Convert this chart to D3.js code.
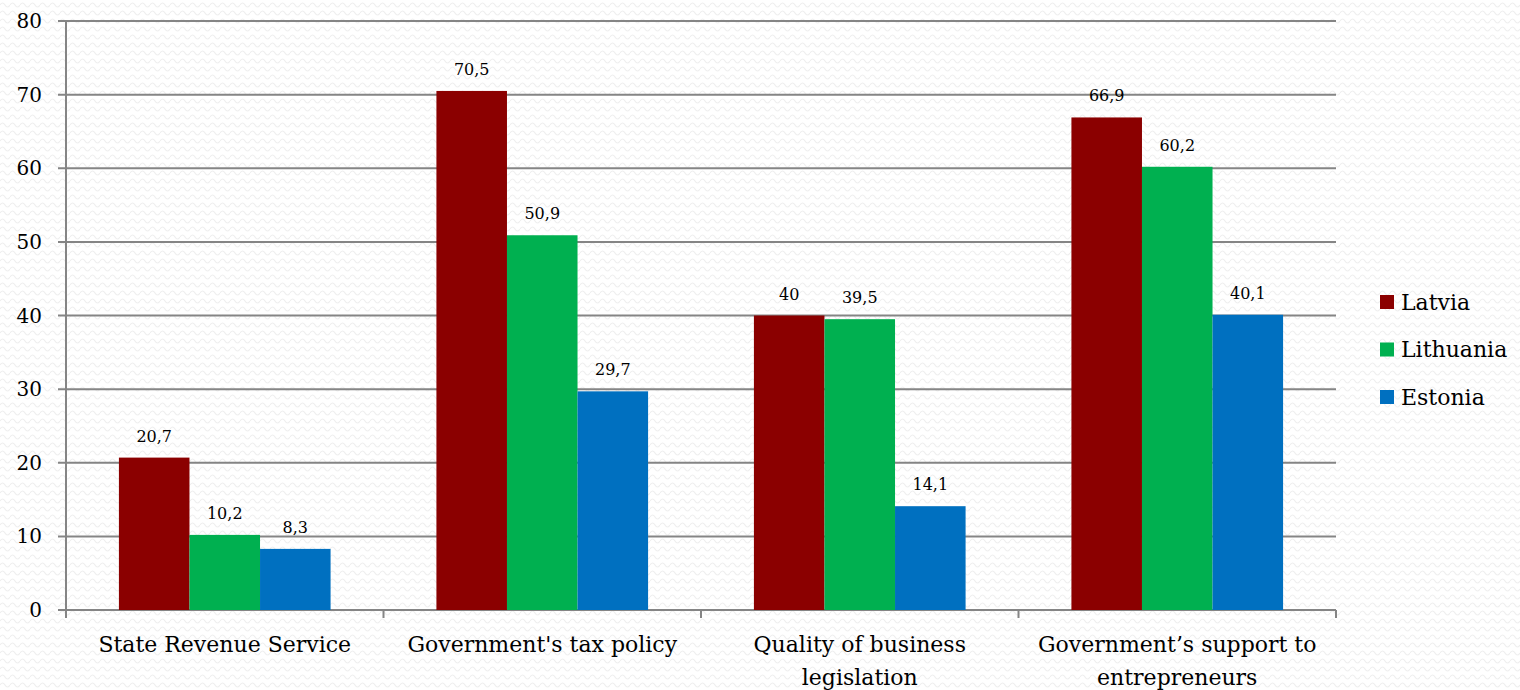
<!DOCTYPE html>
<html>
<head>
<meta charset="utf-8">
<script src="https://d3js.org/d3.v7.min.js"></script>
<style>
  html, body { margin: 0; padding: 0; background: #ffffff; }
  svg { display: block; }
</style>
</head>
<body>
<svg id="chart" width="1520" height="690"></svg>
<script>
// Survey shares by country, per assessed area
const categories = [
  ["State Revenue Service"],
  ["Government's tax policy"],
  ["Quality of business", "legislation"],
  ["Government\u2019s support to", "entrepreneurs"]
];
const seriesNames = ["Latvia", "Lithuania", "Estonia"];
const seriesColors = ["#8b0000", "#00b050", "#0070c0"];
const latvia = [20.7, 70.5, 40, 66.9];
const lithuania = [10.2, 50.9, 39.5, 60.2];
const estonia = [8.3, 29.7, 14.1, 40.1];
const yTicks = [0, 10, 20, 30, 40, 50, 60, 70, 80];

const seriesValues = [latvia, lithuania, estonia];
const fontFamily = "'DejaVu Serif', 'Liberation Serif', serif";

const svg = d3.select("#chart");

// faint wavy backdrop
const defs = svg.append("defs");
const pat = defs.append("pattern")
  .attr("id", "waves").attr("patternUnits", "userSpaceOnUse")
  .attr("width", 10).attr("height", 8);
pat.append("path")
  .attr("d", "M0,5 Q2.5,1 5,5 T10,5")
  .attr("fill", "none").attr("stroke", "#efefef").attr("stroke-width", 1.2);
svg.append("rect").attr("width", 1520).attr("height", 690).attr("fill", "#ffffff");
svg.append("rect").attr("width", 1520).attr("height", 690).attr("fill", "url(#waves)");

const plot = { left: 66, right: 1336, top: 21, bottom: 610 };

const x0 = d3.scaleBand()
  .domain(d3.range(categories.length))
  .range([plot.left, plot.right])
  .paddingInner(0).paddingOuter(0);

const x1 = d3.scaleBand()
  .domain(d3.range(seriesNames.length))
  .range([0, x0.bandwidth()])
  .paddingInner(0)
  .paddingOuter(0.75);

const y = d3.scaleLinear().domain([0, 80]).range([plot.bottom, plot.top]);

const lineColor = "#858585";

// horizontal gridlines with left ticks
svg.append("g").selectAll("line")
  .data(yTicks)
  .join("line")
  .attr("x1", plot.left - 8).attr("x2", plot.right)
  .attr("y1", d => y(d)).attr("y2", d => y(d))
  .attr("stroke", lineColor).attr("stroke-width", 2);

// y tick labels
svg.append("g").selectAll("text")
  .data(yTicks)
  .join("text")
  .attr("x", 42).attr("y", d => y(d))
  .attr("dy", "0.35em")
  .attr("text-anchor", "end")
  .attr("font-family", fontFamily).attr("font-size", 20)
  .attr("fill", "#000")
  .text(d => d);

// bars
const groups = svg.append("g").selectAll("g")
  .data(categories)
  .join("g")
  .attr("transform", (d, i) => `translate(${x0(i)},0)`);

groups.each(function(cat, ci) {
  const g = d3.select(this);
  seriesValues.forEach((vals, si) => {
    const v = vals[ci];
    g.append("rect")
      .attr("x", x1(si)).attr("width", x1.bandwidth())
      .attr("y", y(v)).attr("height", y(0) - y(v))
      .attr("fill", seriesColors[si]);
    g.append("text")
      .attr("x", x1(si) + x1.bandwidth() / 2)
      .attr("y", y(v) - 16)
      .attr("text-anchor", "middle")
      .attr("font-family", fontFamily).attr("font-size", 16)
      .attr("fill", "#000")
      .text(String(v).replace(".", ","));
  });
});

// axes lines
svg.append("line")
  .attr("x1", plot.left).attr("x2", plot.left)
  .attr("y1", plot.top).attr("y2", plot.bottom + 8)
  .attr("stroke", lineColor).attr("stroke-width", 2);

const boundaries = d3.range(categories.length + 1).map(i => plot.left + i * x0.step());
svg.append("g").selectAll("line")
  .data(boundaries.slice(1))
  .join("line")
  .attr("x1", d => d).attr("x2", d => d)
  .attr("y1", plot.bottom).attr("y2", plot.bottom + 8)
  .attr("stroke", lineColor).attr("stroke-width", 2);

// category labels
svg.append("g").selectAll("text")
  .data(categories)
  .join("text")
  .attr("x", (d, i) => x0(i) + x0.bandwidth() / 2)
  .attr("y", 652)
  .attr("text-anchor", "middle")
  .attr("font-family", fontFamily).attr("font-size", 22)
  .attr("fill", "#000")
  .each(function(lines) {
    const t = d3.select(this);
    lines.forEach((ln, k) => {
      t.append("tspan")
        .attr("x", t.attr("x"))
        .attr("dy", k === 0 ? 0 : 33)
        .text(ln);
    });
  });

// legend
const legend = svg.append("g").attr("transform", "translate(1380,302)");
seriesNames.forEach((name, i) => {
  const row = legend.append("g").attr("transform", `translate(0,${i * 47.5})`);
  row.append("rect").attr("x", 0).attr("y", -7).attr("width", 14).attr("height", 14)
    .attr("fill", seriesColors[i]);
  row.append("text").attr("x", 21).attr("y", 0).attr("dy", "0.35em")
    .attr("font-family", fontFamily).attr("font-size", 22)
    .attr("fill", "#000")
    .text(name);
});
</script>
</body>
</html>
